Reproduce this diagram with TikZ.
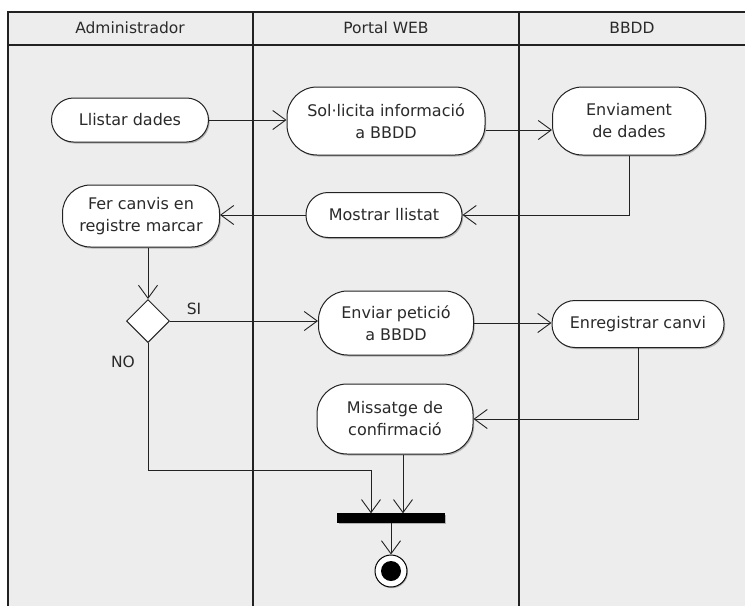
\documentclass[tikz,border=0pt]{standalone}
\usepackage{fontspec}
\setmainfont{DejaVu Sans}
\usetikzlibrary{arrows.meta,shapes.geometric,shadows}
\definecolor{bg}{HTML}{EDEDED}
\definecolor{ink}{HTML}{222222}
\definecolor{txt}{HTML}{2A2A2A}
\begin{document}
\begin{tikzpicture}[x=1pt,y=-1pt,
  act/.style={draw=ink, line width=1pt, fill=white, rounded corners=#1, align=center,
    inner sep=2pt, text=txt, font=\fontsize{16}{22}\selectfont,
    drop shadow={shadow xshift=1.2pt, shadow yshift=-1.5pt, fill=black!45, opacity=0.6}},
  act/.default=22pt,
  arr/.style={draw=ink, line width=1pt, -{Straight Barb[length=13pt,width=19pt,line width=0.9pt]}},
  lane/.style={draw=ink, line width=1.1pt},
  hdr/.style={text=txt, font=\fontsize{15.5}{18}\selectfont},
  lbl/.style={text=txt, font=\fontsize{15.5}{18}\selectfont}]
\useasboundingbox (0,0) rectangle (745,606);
\fill[white] (0,0) rectangle (745,606);
\fill[bg] (8,12) rectangle (745,606);
% swimlane frame
\draw[lane] (8,606) -- (8,12) -- (745,12);
\draw[lane] (8,45) -- (745,45);
\draw[lane] (253,12) -- (253,606);
\draw[lane] (519,12) -- (519,606);
\node[hdr] (h1) at (130,28) {Administrador};
\node[hdr] (h2) at (386,28) {Portal WEB};
\node[hdr] (h3) at (632,28) {BBDD};
% activities
\node[act, minimum width=157pt, minimum height=44pt] (llistar) at (130,120) {Llistar dades};
\node[act=30pt, minimum width=198pt, minimum height=68pt] (sol) at (386,121) {Sol·licita informació\\a BBDD};
\node[act=30pt, minimum width=153pt, minimum height=68pt] (env) at (629,121) {Enviament\\de dades};
\node[act, minimum width=156pt, minimum height=45pt] (mostrar) at (384,215) {Mostrar llistat};
\node[act=28pt, minimum width=157pt, minimum height=62pt] (fer) at (141,216) {Fer canvis en\\registre marcar};
\node[diamond, draw=ink, line width=1pt, fill=white, minimum width=43pt, minimum height=43pt, inner sep=0pt] (dec) at (148,321) {};
\node[act=29pt, minimum width=155pt, minimum height=64pt] (enviar) at (396,323) {Enviar petició\\a BBDD};
\node[act=23pt, minimum width=172pt, minimum height=47pt] (enreg) at (638,324) {Enregistrar canvi};
\node[act=30pt, minimum width=156pt, minimum height=70pt] (miss) at (395,419) {Missatge de\\confirmació};
\node[draw=black, fill=black, minimum width=107pt, minimum height=9pt, inner sep=0pt,
  drop shadow={shadow xshift=1pt, shadow yshift=-1.2pt, fill=black!45, opacity=0.6}] (bar) at (391,518) {};
\node[circle, draw=black, line width=1pt, fill=white, minimum size=32pt, inner sep=0pt,
  drop shadow={shadow xshift=1pt, shadow yshift=-1.2pt, fill=black!45, opacity=0.6}] (final) at (391,571) {};
\node[circle, fill=black, minimum size=20pt, inner sep=0pt] (finalin) at (final.center) {};
% labels
\node[lbl] (si) at (194,309) {SI};
\node[lbl] (no) at (123,362) {NO};
% connectors
\coordinate (j1) at (371,470);
\draw[arr] (llistar.east) -- (llistar.east -| sol.west);
\draw[arr] ([yshift=-9pt]sol.east) -- ([yshift=-9pt]sol.east -| env.west);
\draw[arr] (env.south) |- (mostrar.east);
\draw[arr] (mostrar.west) -- (mostrar.west -| fer.east);
\draw[arr] (dec.north |- fer.south) -- (dec.north);
\draw[arr] (dec.east) -- (dec.east -| enviar.west);
\draw[arr] (enviar.east) -- (enviar.east -| enreg.west);
\draw[arr] (enreg.south) |- (miss.east);
\draw[arr] (dec.south) |- (j1) -- (j1 |- bar.north);
\draw[arr] ([xshift=8pt]miss.south) -- ([xshift=8pt]miss.south |- bar.north);
\draw[arr] (bar.south) -- (final.north);
\end{tikzpicture}
\end{document}
